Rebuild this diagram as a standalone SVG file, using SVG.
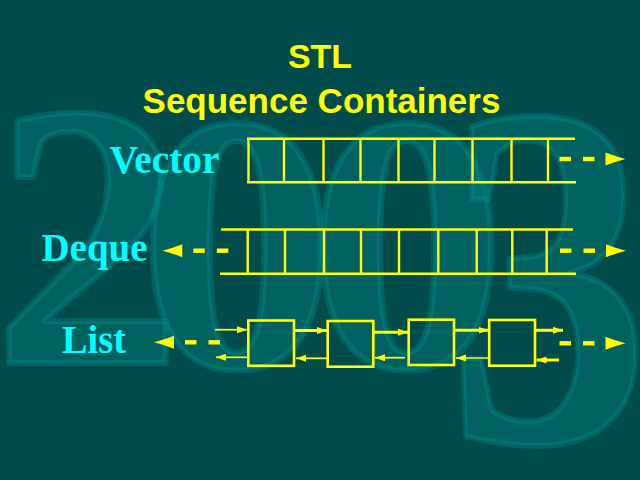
<svg xmlns="http://www.w3.org/2000/svg" width="640" height="480" viewBox="0 0 640 480">
<style>
.bg{fill:#004b4b}
.dig{font-family:"Liberation Serif","Times New Roman",serif;font-weight:bold;fill:#008080;fill-opacity:0.42;stroke:#009a9a;stroke-opacity:0.3;stroke-width:6;stroke-linejoin:round}
.title{font-family:"Liberation Sans",Arial,sans-serif;font-weight:bold;fill:#ffff00;text-anchor:middle}
.lbl{font-family:"Liberation Serif","Times New Roman",serif;font-weight:bold;font-size:39px;fill:#00ffff}
.rail{stroke:#ffff00;stroke-width:2.5;fill:none}
.cell{stroke:#ffff00;stroke-width:2.4;fill:none}
.box{stroke:#ffff00;stroke-width:2.6;fill:none}
.thin{stroke:#ffff00;stroke-width:1.7;fill:none}
.thick{stroke:#ffff00;stroke-width:3;fill:none}
.fy{fill:#ffff00}
</style>
<defs>
<marker id="ah" markerUnits="userSpaceOnUse" markerWidth="10" markerHeight="8" refX="10" refY="4" orient="auto">
<path d="M0,0.5 L10,4 L0,7.5 z" fill="#ffff00"/>
</marker>
<g id="dr">
<rect x="0" y="-2.2" width="11.5" height="4.4"/>
<rect x="23.5" y="-2.2" width="11.5" height="4.4"/>
<path d="M46,-6.5 Q56,-2.5 66,0 Q56,2.5 46,6.5 z"/>
</g>
</defs>
<rect class="bg" x="0" y="0" width="640" height="480"/>
<g id="watermark">
<text class="dig" transform="translate(-7,363)" font-size="378">2</text>
<text class="dig" transform="translate(138,367) scale(1.08,1)" font-size="367">0</text>
<text class="dig" transform="translate(308,367) scale(1.08,1)" font-size="367">0</text>
<text class="dig" transform="translate(448,441) scale(0.82,1)" font-size="491">3</text>
</g>
<g id="title">
<text class="title" x="320" y="68" font-size="34">STL</text>
<text class="title" x="321.5" y="113" font-size="35">Sequence Containers</text>
</g>
<g id="labels">
<text class="lbl" x="109.5" y="172.7" textLength="110" lengthAdjust="spacingAndGlyphs">Vector</text>
<text class="lbl" x="41.5" y="260.5" textLength="106" lengthAdjust="spacingAndGlyphs">Deque</text>
<text class="lbl" x="62" y="352.7" textLength="64" lengthAdjust="spacingAndGlyphs">List</text>
</g>
<g id="vector">
<path class="rail" d="M247,138.7 H575 M247,182.3 H576"/>
<path class="cell" d="M248.5,138 V183 M284,138 V183 M323.5,138 V183 M360.5,138 V183 M398.5,138 V183 M434.5,138 V183 M472.5,138 V183 M511.5,138 V183 M548,138 V183"/>
</g>
<g id="deque">
<path class="rail" d="M221,229.5 H573 M220,273.7 H576"/>
<path class="cell" d="M247.7,229 V274 M285,229 V274 M324,229 V274 M361,229 V274 M399,229 V274 M438.3,229 V274 M476.7,229 V274 M512.3,229 V274 M546.7,229 V274"/>
</g>
<g id="list-node-1"><rect class="box" x="248.3" y="320.5" width="45.7" height="45.3"/></g>
<g id="list-node-2"><rect class="box" x="327.7" y="321" width="45.6" height="45.7"/></g>
<g id="list-node-3"><rect class="box" x="408.7" y="319.7" width="45.3" height="45.3"/></g>
<g id="list-node-4"><rect class="box" x="489.2" y="320" width="45.8" height="45.7"/></g>
<g id="connectors">
<use href="#dr" class="fy" transform="translate(559.5,159)"/>
<use href="#dr" class="fy" transform="translate(560,250.7)"/>
<use href="#dr" class="fy" transform="translate(228.3,250.7) scale(-1,1)"/>
<use href="#dr" class="fy" transform="translate(559.5,343.3)"/>
<use href="#dr" class="fy" transform="translate(220,342.3) scale(-1,1)"/>
<line class="thin" x1="215" y1="329.7" x2="247" y2="329.7" marker-end="url(#ah)"/>
<line class="thick" x1="294" y1="330.4" x2="327" y2="330.4" marker-end="url(#ah)"/>
<line class="thick" x1="373.3" y1="332.3" x2="408" y2="332.3" marker-end="url(#ah)"/>
<line class="thick" x1="454" y1="330.3" x2="488.5" y2="330.3" marker-end="url(#ah)"/>
<line class="thick" x1="535" y1="330.3" x2="563" y2="330.3" marker-end="url(#ah)"/>
<line class="thin" x1="248" y1="357.3" x2="216" y2="357.3" marker-end="url(#ah)"/>
<line class="thin" x1="327.7" y1="358.3" x2="296" y2="358.3" marker-end="url(#ah)"/>
<line class="thin" x1="405" y1="357.7" x2="375" y2="357.7" marker-end="url(#ah)"/>
<line class="thin" x1="489" y1="358" x2="456" y2="358" marker-end="url(#ah)"/>
<line class="thick" x1="559" y1="360" x2="536.5" y2="360" marker-end="url(#ah)"/>
</g>
</svg>
